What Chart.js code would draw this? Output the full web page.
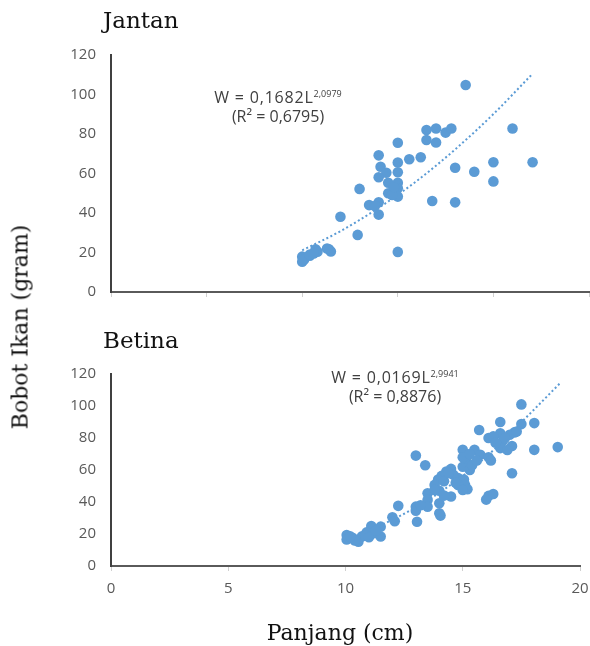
<!DOCTYPE html>
<html>
<head>
<meta charset="utf-8">
<script src="https://cdn.jsdelivr.net/npm/chart.js@4.4.1/dist/chart.umd.min.js"></script>
<style>
  html, body { margin: 0; padding: 0; width: 590px; height: 646px; overflow: hidden; background: #fff; }
  #wrap { position: relative; width: 590px; height: 646px; overflow: hidden; }
  canvas { position: absolute; }
  .ttl { position: absolute; font-family: "DejaVu Serif", serif; font-size: 22px; color: #111; white-space: nowrap; }
  .hd { font-size: 23px; }
  .eq { position: absolute; font-family: "Open Sans", "Liberation Sans", sans-serif; font-size: 16px; color: #404040; white-space: nowrap; text-align: center; line-height: 19px; }
  .eq .l1 { letter-spacing: 0.8px; }
  .eq sup { font-size: 9px; vertical-align: 6px; line-height: 0; letter-spacing: 0; }
</style>
</head>
<body>
<div id="wrap">
  <canvas id="top" width="600" height="316" style="left:0;top:0;width:600px;height:316px"></canvas>
  <canvas id="bot" width="600" height="300" style="left:0;top:330px;width:600px;height:300px"></canvas>
  <div class="ttl hd" style="left:103px;top:7px;">Jantan</div>
  <div class="ttl hd" style="left:103px;top:327px;">Betina</div>
  <div class="ttl" style="left:340px;top:632px;transform:translate(-50%,-50%);">Panjang (cm)</div>
  <div class="ttl" style="left:20px;top:327px;transform:translate(-50%,-50%) rotate(-90deg);">Bobot Ikan (gram)</div>
  <div class="eq" style="left:278px;top:88px;transform:translateX(-50%);"><span class="l1">W = 0,1682L</span><sup>2,0979</sup><br>(R² = 0,6795)</div>
  <div class="eq" style="left:395px;top:368px;transform:translateX(-50%);"><span class="l1">W = 0,0169L</span><sup>2,9941</sup><br>(R² = 0,8876)</div>
</div>
<script>
// ---- Data ----
const yTicks = [0, 20, 40, 60, 80, 100, 120];
const xTicks = [0, 5, 10, 15, 20];

// Jantan (male): length (cm) and weight (gram)
const jantanLength = [10.0, 10.0, 10.1, 10.4, 10.4, 10.7, 10.8, 10.6, 11.4, 11.5,
  12.0, 12.9, 13.0, 13.5, 14.0, 13.8, 14.0, 14.0, 14.1, 14.4,
  14.0, 14.5, 15.0, 14.5, 15.0, 15.0, 14.7, 14.8, 15.0, 15.0,
  15.6, 16.2, 15.0, 16.5, 17.0, 17.5, 17.8, 16.5, 17.0, 18.55,
  21.0, 22.05, 20.0, 20.0, 19.0, 18.0, 18.0, 16.8, 15.0, 11.3];
const jantanWeight = [15.3, 17.9, 16.5, 18.4, 19.0, 21.6, 20.4, 19.5, 21.6, 20.5,
  38.1, 28.9, 52.2, 44.0, 45.4, 43.5, 39.2, 69.2, 63.4, 60.4,
  58.1, 55.3, 55.3, 50.0, 52.5, 48.3, 49.1, 53.0, 60.6, 65.6,
  67.2, 68.2, 75.6, 82.0, 82.8, 80.7, 82.8, 77.0, 75.7, 104.8,
  82.8, 65.7, 65.7, 56.0, 60.9, 62.9, 45.4, 46.1, 20.3, 22.0];
// Jantan trend line points
const jantanTrendL = [10, 12, 14, 16, 18, 20, 22];
const jantanTrendW = [21.1, 30.8, 42.6, 56.3, 72.2, 90.1, 110.0];

// Betina (female)
const betinaLength = [17.5, 16.6, 17.5, 18.05, 15.7, 17.2, 17.0, 16.6, 16.1, 16.3,
  16.7, 17.1, 16.6, 16.9, 18.05, 19.05, 17.1, 15.0, 15.5, 15.75,
  16.1, 16.2, 13.0, 13.4, 15.17, 15.0, 15.3, 14.5, 14.3, 14.1,
  13.95, 13.8, 14.2, 14.8, 15.05, 15.1, 15.2, 14.8, 14.5, 14.0,
  13.5, 13.5, 14.0, 13.5, 13.0, 14.0, 14.05, 16.1, 16.3, 16.0,
  12.25, 13.05, 12.0, 12.1, 11.5, 11.1, 10.9, 11.2, 11.5, 10.05,
  10.05, 10.3, 10.55, 10.7, 10.85, 10.4, 11.0, 10.2, 11.3, 14.6,
  14.4, 15.1, 15.0, 15.4, 15.6, 13.0, 13.2, 15.0, 14.7, 16.4,
  16.8, 17.3, 15.3, 13.8, 14.2];
const betinaWeight = [101, 90, 88.7, 89.3, 85, 83.5, 82, 83, 80, 81,
  78, 75, 73.7, 72.5, 72.6, 74.3, 58, 72.6, 72.6, 69.5,
  68, 66, 69, 63, 65.3, 62, 60, 60.7, 59, 56.3,
  54, 50.7, 53, 55, 54, 50.7, 48, 50.7, 43.4, 47,
  45.5, 41.3, 39.2, 37, 37.1, 33, 31.5, 43.8, 45, 41.5,
  37.6, 27.7, 30.5, 28, 24.6, 25, 21, 20.5, 18.4, 19.4,
  16.6, 17.6, 15.2, 18.5, 19, 16, 18, 18.5, 22, 57,
  58, 67, 68, 63, 66, 34.5, 38, 47.5, 52, 77,
  80, 84, 70, 47.5, 44];
const betinaTrendL = [10, 12, 14, 16, 18, 19.2];
const betinaTrendW = [16.7, 28.9, 45.8, 68.3, 97.2, 115.0];

// ---- Styling ----
const BLUE = '#5b9bd5';
const tickFont = { family: '"Open Sans", "Liberation Sans", sans-serif', size: 15 };
const TICK_COLOR = '#595959';

function pts(xs, ys) { return xs.map((x, i) => ({ x: x, y: ys[i] })); }

function makeChart(id, opts) {
  return new Chart(document.getElementById(id), {
    type: 'scatter',
    data: {
      datasets: [
        {
          data: pts(opts.L, opts.W),
          backgroundColor: BLUE,
          borderColor: BLUE,
          pointRadius: 5.3,
          pointHoverRadius: 5.3,
          borderWidth: 0,
          order: 1
        },
        {
          type: 'line',
          data: pts(opts.tL, opts.tW),
          borderColor: BLUE,
          borderWidth: 2,
          borderDash: [2, 2.5],
          pointRadius: 0,
          fill: false,
          cubicInterpolationMode: 'monotone',
          order: 2
        }
      ]
    },
    options: {
      responsive: false,
      animation: false,
      events: [],
      layout: { padding: opts.padding },
      plugins: { legend: { display: false }, tooltip: { enabled: false } },
      scales: {
        x: {
          type: 'linear',
          min: 0,
          max: opts.xMax,
          afterBuildTicks: (s) => { s.ticks = opts.xTickVals.map(v => ({ value: v })); },
          afterFit: (s) => { s.height = opts.xHeight; },
          border: { display: true, color: '#5a5a5a', width: 2 },
          grid: { drawOnChartArea: false, drawTicks: true, tickLength: 5, color: '#d0d0d0' },
          ticks: { display: opts.xLabels, font: tickFont, color: TICK_COLOR, padding: 9, maxRotation: 0 }
        },
        y: {
          min: 0,
          max: 120,
          afterBuildTicks: (s) => { s.ticks = yTicks.map(v => ({ value: v })); },
          afterFit: (s) => { s.width = 111; },
          border: { display: true, color: '#404040', width: 2 },
          grid: { display: false, drawTicks: false },
          ticks: { font: tickFont, color: TICK_COLOR, padding: 15 }
        }
      }
    }
  });
}

makeChart('top', {
  L: jantanLength, W: jantanWeight, tL: jantanTrendL, tW: jantanTrendW,
  xMax: 25, xTickVals: [0, 5, 10, 15, 20, 25], xLabels: false, xHeight: 18,
  padding: { left: 0, top: 55, right: 11, bottom: 0 }
});

makeChart('bot', {
  L: betinaLength, W: betinaWeight, tL: betinaTrendL, tW: betinaTrendW,
  xMax: 20, xTickVals: xTicks, xLabels: true, xHeight: 64,
  padding: { left: 0, top: 44, right: 20, bottom: 0 }
});
</script>
</body>
</html>
